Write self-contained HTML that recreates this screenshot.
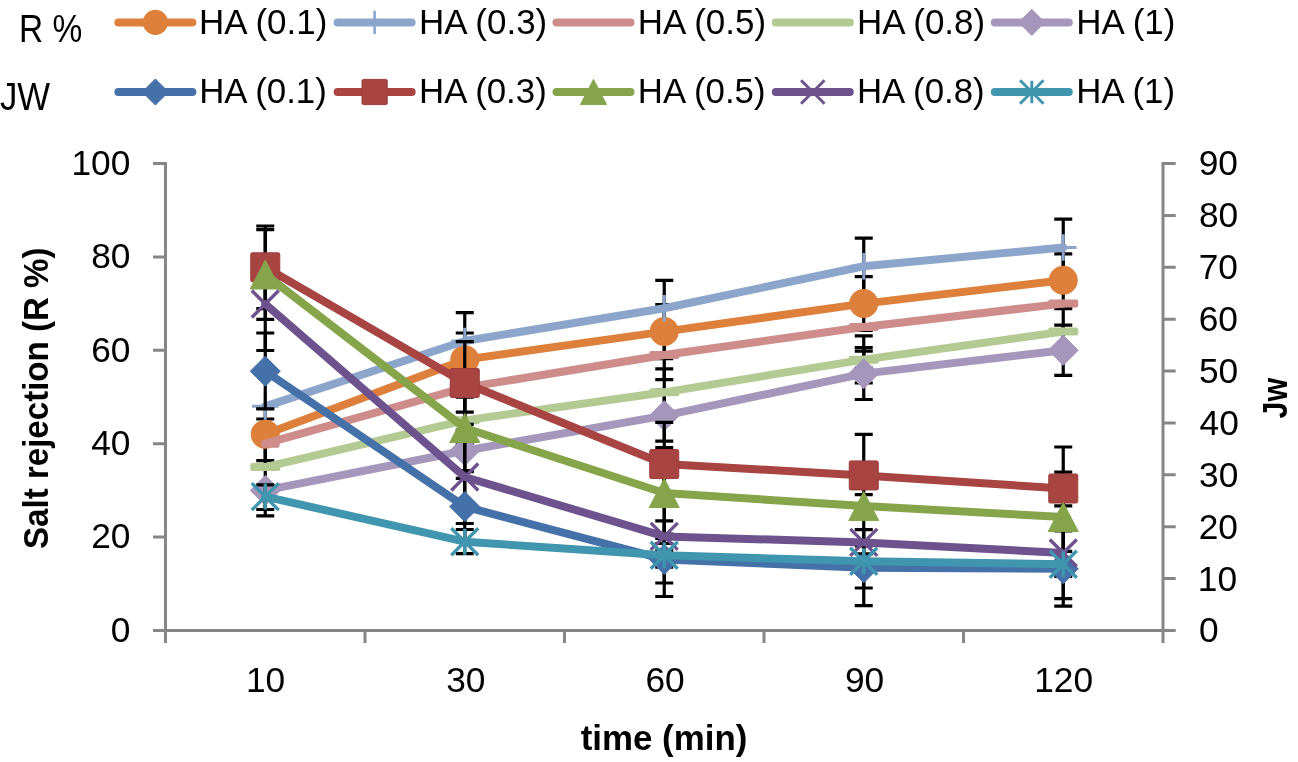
<!DOCTYPE html><html><head><meta charset="utf-8"><title>chart</title><style>html,body{margin:0;padding:0;background:#fff;width:1298px;height:762px;overflow:hidden}body{position:relative;font-family:"Liberation Sans",sans-serif}</style></head><body><svg width="1298" height="762" viewBox="0 0 1298 762" style="position:absolute;left:0;top:0;will-change:transform"><rect width="100%" height="100%" fill="#fff"/><g font-family="Liberation Sans, sans-serif"><text transform="translate(18.94 42.2) scale(0.8603 1)" font-size="38.95" font-weight="normal" fill="#000">R %</text><text transform="translate(-0.02 110) scale(0.8884 1)" font-size="39.10" font-weight="normal" fill="#000">JW</text><path d="M118.4 22.4H192.4" stroke="#DD803B" stroke-width="8" stroke-linecap="round"/><circle cx="155.4" cy="22.4" r="12.62" fill="#DD803B"/><text transform="translate(199.12 34.3) scale(0.9740 1)" font-size="35.90" font-weight="normal" fill="#000">HA (0.1)</text><path d="M337.6 22.4H411.6" stroke="#8BA5CB" stroke-width="8" stroke-linecap="round"/><path d="M363.03 22.4H386.17M374.6 10.83V33.97" stroke="#8BA5CB" stroke-width="2.61" fill="none"/><text transform="translate(419.02 34.3) scale(0.9740 1)" font-size="35.90" font-weight="normal" fill="#000">HA (0.3)</text><path d="M556.5 22.4H630.5" stroke="#CE8D8B" stroke-width="8" stroke-linecap="round"/><text transform="translate(637.82 34.3) scale(0.9740 1)" font-size="35.90" font-weight="normal" fill="#000">HA (0.5)</text><path d="M775.8 22.4H849.8" stroke="#B3CA92" stroke-width="8" stroke-linecap="round"/><text transform="translate(856.92 34.3) scale(0.9740 1)" font-size="35.90" font-weight="normal" fill="#000">HA (0.8)</text><path d="M994.8 22.4H1068.8" stroke="#A596BB" stroke-width="8" stroke-linecap="round"/><path d="M1031.8 9.35L1044.85 22.4L1031.8 35.45L1018.75 22.4Z" fill="#A596BB" stroke="#A596BB" stroke-width="1" stroke-linejoin="round"/><text transform="translate(1076.32 34.3) scale(0.9740 1)" font-size="35.90" font-weight="normal" fill="#000">HA (1)</text><path d="M118.4 92H192.4" stroke="#4571A9" stroke-width="8" stroke-linecap="round"/><path d="M155.4 78.95L168.45 92L155.4 105.05L142.35 92Z" fill="#4571A9" stroke="#4571A9" stroke-width="1" stroke-linejoin="round"/><text transform="translate(199.13 103.3) scale(0.9740 1)" font-size="35.76" font-weight="normal" fill="#000">HA (0.1)</text><path d="M337.6 92H411.6" stroke="#A84442" stroke-width="8" stroke-linecap="round"/><rect x="361.99" y="79.39" width="25.23" height="25.23" rx="1.5" fill="#A84442" stroke="#9c3d3b" stroke-width="1"/><text transform="translate(419.03 103.3) scale(0.9740 1)" font-size="35.76" font-weight="normal" fill="#000">HA (0.3)</text><path d="M556.5 92H630.5" stroke="#86A44A" stroke-width="8" stroke-linecap="round"/><path d="M593.5 79.39L606.55 104.61L580.45 104.61Z" fill="#86A44A" stroke="#86A44A" stroke-width="1" stroke-linejoin="round"/><text transform="translate(637.83 103.3) scale(0.9740 1)" font-size="35.76" font-weight="normal" fill="#000">HA (0.5)</text><path d="M775.8 92H849.8" stroke="#6D528E" stroke-width="8" stroke-linecap="round"/><path d="M801.05 80.25L824.54 103.75M824.54 80.25L801.05 103.75" stroke="#6D528E" stroke-width="2.96" fill="none"/><text transform="translate(856.93 103.3) scale(0.9740 1)" font-size="35.76" font-weight="normal" fill="#000">HA (0.8)</text><path d="M994.8 92H1068.8" stroke="#4096AE" stroke-width="8" stroke-linecap="round"/><path d="M1020.05 80.25L1043.54 103.75M1043.54 80.25L1020.05 103.75M1031.8 80.69V103.31" stroke="#4096AE" stroke-width="2.96" fill="none"/><text transform="translate(1076.33 103.3) scale(0.9740 1)" font-size="35.76" font-weight="normal" fill="#000">HA (1)</text><path d="M165.5 162V643M1163 162V643M153 630.5H1175.7M153 630.5H165.5M153 537.1H165.5M153 443.7H165.5M153 350.3H165.5M153 256.9H165.5M153 163.5H165.5M1163 630.5H1175.7M1163 578.61H1175.7M1163 526.72H1175.7M1163 474.83H1175.7M1163 422.94H1175.7M1163 371.05H1175.7M1163 319.16H1175.7M1163 267.27H1175.7M1163 215.38H1175.7M1163 163.49H1175.7M365 630.5V643M564.5 630.5V643M764 630.5V643M963.5 630.5V643" stroke="#868686" stroke-width="3" fill="none"/><text transform="translate(110.73 641.7) scale(1.0101 1)" font-size="34.96" font-weight="normal" fill="#000">0</text><text transform="translate(91.13 548.3) scale(1.0101 1)" font-size="34.96" font-weight="normal" fill="#000">20</text><text transform="translate(91.13 454.9) scale(1.0101 1)" font-size="34.96" font-weight="normal" fill="#000">40</text><text transform="translate(91.13 361.5) scale(1.0101 1)" font-size="34.96" font-weight="normal" fill="#000">60</text><text transform="translate(91.13 268.1) scale(1.0101 1)" font-size="34.96" font-weight="normal" fill="#000">80</text><text transform="translate(71.44 174.7) scale(1.0101 1)" font-size="34.96" font-weight="normal" fill="#000">100</text><text transform="translate(1198.99 642.4) scale(1.0101 1)" font-size="34.96" font-weight="normal" fill="#000">0</text><text transform="translate(1197.75 590.51) scale(1.0101 1)" font-size="34.96" font-weight="normal" fill="#000">10</text><text transform="translate(1198.63 538.62) scale(1.0101 1)" font-size="34.96" font-weight="normal" fill="#000">20</text><text transform="translate(1199.08 486.73) scale(1.0101 1)" font-size="34.96" font-weight="normal" fill="#000">30</text><text transform="translate(1199.61 434.84) scale(1.0101 1)" font-size="34.96" font-weight="normal" fill="#000">40</text><text transform="translate(1198.99 382.95) scale(1.0101 1)" font-size="34.96" font-weight="normal" fill="#000">50</text><text transform="translate(1198.63 331.06) scale(1.0101 1)" font-size="34.96" font-weight="normal" fill="#000">60</text><text transform="translate(1198.63 279.17) scale(1.0101 1)" font-size="34.96" font-weight="normal" fill="#000">70</text><text transform="translate(1198.9 227.28) scale(1.0101 1)" font-size="34.96" font-weight="normal" fill="#000">80</text><text transform="translate(1198.72 175.39) scale(1.0101 1)" font-size="34.96" font-weight="normal" fill="#000">90</text><text transform="translate(245.99 692.3) scale(1.0143 1)" font-size="34.81" font-weight="normal" fill="#000">10</text><text transform="translate(446.15 692.3) scale(1.0143 1)" font-size="34.81" font-weight="normal" fill="#000">30</text><text transform="translate(645.43 692.3) scale(1.0143 1)" font-size="34.81" font-weight="normal" fill="#000">60</text><text transform="translate(844.98 692.3) scale(1.0143 1)" font-size="34.81" font-weight="normal" fill="#000">90</text><text transform="translate(1034.15 692.3) scale(1.0143 1)" font-size="34.81" font-weight="normal" fill="#000">120</text><text transform="translate(580.76 750) scale(0.9822 1)" font-size="35.5" font-weight="bold">time (min)</text><text transform="translate(47.7 548.99) rotate(-90) scale(0.9296 1)" font-size="35.61" font-weight="bold">Salt rejection (R %)</text><text transform="translate(1287.3 418.46) rotate(-90) scale(0.8730 1)" font-size="34.88" font-weight="bold">Jw</text><path d="M265.25 408.1V460.7M256.25 408.1H274.25M256.25 460.7H274.25" stroke="#000" stroke-width="3.2" fill="none"/><path d="M265.25 419V468M256.25 419H274.25M256.25 468H274.25" stroke="#000" stroke-width="3.2" fill="none"/><path d="M265.25 465V515.8M256.25 465H274.25M256.25 515.8H274.25" stroke="#000" stroke-width="3.2" fill="none"/><path d="M464.75 312.6V369.4M455.75 312.6H473.75M455.75 369.4H473.75" stroke="#000" stroke-width="3.2" fill="none"/><path d="M464.75 333V386.2M455.75 333H473.75M455.75 386.2H473.75" stroke="#000" stroke-width="3.2" fill="none"/><path d="M464.75 363.3V412.1M455.75 363.3H473.75M455.75 412.1H473.75" stroke="#000" stroke-width="3.2" fill="none"/><path d="M464.75 397.1V443.7M455.75 397.1H473.75M455.75 443.7H473.75" stroke="#000" stroke-width="3.2" fill="none"/><path d="M464.75 436V470.7M455.75 436H473.75M455.75 470.7H473.75" stroke="#000" stroke-width="3.2" fill="none"/><path d="M664.25 280.4V336.2M655.25 280.4H673.25M655.25 336.2H673.25" stroke="#000" stroke-width="3.2" fill="none"/><path d="M664.25 304.5V358.7M655.25 304.5H673.25M655.25 358.7H673.25" stroke="#000" stroke-width="3.2" fill="none"/><path d="M664.25 330.3V379.7M655.25 330.3H673.25M655.25 379.7H673.25" stroke="#000" stroke-width="3.2" fill="none"/><path d="M664.25 368.8V415.8M655.25 368.8H673.25M655.25 415.8H673.25" stroke="#000" stroke-width="3.2" fill="none"/><path d="M664.25 390.2V441.2M655.25 390.2H673.25M655.25 441.2H673.25" stroke="#000" stroke-width="3.2" fill="none"/><path d="M863.75 238.2V294.4M854.75 238.2H872.75M854.75 294.4H872.75" stroke="#000" stroke-width="3.2" fill="none"/><path d="M863.75 276.7V330.5M854.75 276.7H872.75M854.75 330.5H872.75" stroke="#000" stroke-width="3.2" fill="none"/><path d="M863.75 335.8V383M854.75 335.8H872.75M854.75 383H872.75" stroke="#000" stroke-width="3.2" fill="none"/><path d="M863.75 347.7V399.5M854.75 347.7H872.75M854.75 399.5H872.75" stroke="#000" stroke-width="3.2" fill="none"/><path d="M863.75 351.2V368M854.75 351.2H872.75M854.75 368H872.75" stroke="#000" stroke-width="3.2" fill="none"/><path d="M1063.25 219.2V276M1054.25 219.2H1072.25M1054.25 276H1072.25" stroke="#000" stroke-width="3.2" fill="none"/><path d="M1063.25 253.8V306.8M1054.25 253.8H1072.25M1054.25 306.8H1072.25" stroke="#000" stroke-width="3.2" fill="none"/><path d="M1063.25 308.6V354.6M1054.25 308.6H1072.25M1054.25 354.6H1072.25" stroke="#000" stroke-width="3.2" fill="none"/><path d="M1063.25 325.2V375.4M1054.25 325.2H1072.25M1054.25 375.4H1072.25" stroke="#000" stroke-width="3.2" fill="none"/><polyline points="265.25,434.36 464.75,359.64 664.25,331.62 863.75,303.6 1063.25,280.25" fill="none" stroke="#DD803B" stroke-width="8" stroke-linejoin="round" stroke-linecap="round"/><circle cx="265.25" cy="434.36" r="14.5" fill="#DD803B"/><circle cx="464.75" cy="359.64" r="14.5" fill="#DD803B"/><circle cx="664.25" cy="331.62" r="14.5" fill="#DD803B"/><circle cx="863.75" cy="303.6" r="14.5" fill="#DD803B"/><circle cx="1063.25" cy="280.25" r="14.5" fill="#DD803B"/><polyline points="265.25,406.34 464.75,340.96 664.25,308.27 863.75,266.24 1063.25,247.56" fill="none" stroke="#8BA5CB" stroke-width="8" stroke-linejoin="round" stroke-linecap="round"/><path d="M251.95 406.34H278.55M265.25 393.04V419.64" stroke="#8BA5CB" stroke-width="3" fill="none"/><path d="M451.45 340.96H478.05M464.75 327.66V354.26" stroke="#8BA5CB" stroke-width="3" fill="none"/><path d="M650.95 308.27H677.55M664.25 294.97V321.57" stroke="#8BA5CB" stroke-width="3" fill="none"/><path d="M850.45 266.24H877.05M863.75 252.94V279.54" stroke="#8BA5CB" stroke-width="3" fill="none"/><path d="M1049.95 247.56H1076.55M1063.25 234.26V260.86" stroke="#8BA5CB" stroke-width="3" fill="none"/><polyline points="265.25,443.7 464.75,387.66 664.25,354.97 863.75,326.95 1063.25,303.6" fill="none" stroke="#CE8D8B" stroke-width="8" stroke-linejoin="round" stroke-linecap="round"/><rect x="261.25" y="439.7" width="18.4" height="8" rx="2" fill="#CE8D8B"/><rect x="449.75" y="383.66" width="30" height="8" rx="2" fill="#CE8D8B"/><rect x="649.25" y="350.97" width="30" height="8" rx="2" fill="#CE8D8B"/><rect x="848.75" y="322.95" width="30" height="8" rx="2" fill="#CE8D8B"/><rect x="1048.25" y="299.6" width="30" height="8" rx="2" fill="#CE8D8B"/><polyline points="265.25,467.05 464.75,420.35 664.25,392.33 863.75,359.64 1063.25,331.62" fill="none" stroke="#B3CA92" stroke-width="8" stroke-linejoin="round" stroke-linecap="round"/><rect x="250.25" y="463.05" width="30" height="8" rx="2" fill="#B3CA92"/><rect x="449.75" y="416.35" width="30" height="8" rx="2" fill="#B3CA92"/><rect x="649.25" y="388.33" width="30" height="8" rx="2" fill="#B3CA92"/><rect x="848.75" y="355.64" width="30" height="8" rx="2" fill="#B3CA92"/><rect x="1048.25" y="327.62" width="30" height="8" rx="2" fill="#B3CA92"/><polyline points="265.25,490.4 464.75,450.71 664.25,415.68 863.75,373.65 1063.25,350.3" fill="none" stroke="#A596BB" stroke-width="8" stroke-linejoin="round" stroke-linecap="round"/><path d="M265.25 475.4L280.25 490.4L265.25 505.4L250.25 490.4Z" fill="#A596BB" stroke="#A596BB" stroke-width="1" stroke-linejoin="round"/><path d="M464.75 435.71L479.75 450.71L464.75 465.71L449.75 450.71Z" fill="#A596BB" stroke="#A596BB" stroke-width="1" stroke-linejoin="round"/><path d="M664.25 400.68L679.25 415.68L664.25 430.68L649.25 415.68Z" fill="#A596BB" stroke="#A596BB" stroke-width="1" stroke-linejoin="round"/><path d="M863.75 358.65L878.75 373.65L863.75 388.65L848.75 373.65Z" fill="#A596BB" stroke="#A596BB" stroke-width="1" stroke-linejoin="round"/><path d="M1063.25 335.3L1078.25 350.3L1063.25 365.3L1048.25 350.3Z" fill="#A596BB" stroke="#A596BB" stroke-width="1" stroke-linejoin="round"/><path d="M265.25 226V308.6M256.25 226H274.25M256.25 308.6H274.25" stroke="#000" stroke-width="3.2" fill="none"/><path d="M265.25 229.6V319.4M256.25 229.6H274.25M256.25 319.4H274.25" stroke="#000" stroke-width="3.2" fill="none"/><path d="M265.25 257.5V350.5M256.25 257.5H274.25M256.25 350.5H274.25" stroke="#000" stroke-width="3.2" fill="none"/><path d="M265.25 333V408.9M256.25 333H274.25M256.25 408.9H274.25" stroke="#000" stroke-width="3.2" fill="none"/><path d="M265.25 484.8V509.5M256.25 484.8H274.25M256.25 509.5H274.25" stroke="#000" stroke-width="3.2" fill="none"/><path d="M464.75 341.7V424.3M455.75 341.7H473.75M455.75 424.3H473.75" stroke="#000" stroke-width="3.2" fill="none"/><path d="M464.75 377.4V478.4M455.75 377.4H473.75M455.75 478.4H473.75" stroke="#000" stroke-width="3.2" fill="none"/><path d="M464.75 430.1V523.5M455.75 430.1H473.75M455.75 523.5H473.75" stroke="#000" stroke-width="3.2" fill="none"/><path d="M464.75 471.6V541.6M455.75 471.6H473.75M455.75 541.6H473.75" stroke="#000" stroke-width="3.2" fill="none"/><path d="M464.75 529.5V553.7M455.75 529.5H473.75M455.75 553.7H473.75" stroke="#000" stroke-width="3.2" fill="none"/><path d="M664.25 422.3V505.7M655.25 422.3H673.25M655.25 505.7H673.25" stroke="#000" stroke-width="3.2" fill="none"/><path d="M664.25 447.5V538.5M655.25 447.5H673.25M655.25 538.5H673.25" stroke="#000" stroke-width="3.2" fill="none"/><path d="M664.25 520.9V550.7M655.25 520.9H673.25M655.25 550.7H673.25" stroke="#000" stroke-width="3.2" fill="none"/><path d="M664.25 534.2V583M655.25 534.2H673.25M655.25 583H673.25" stroke="#000" stroke-width="3.2" fill="none"/><path d="M664.25 475.1V596.5M655.25 475.1H673.25M655.25 596.5H673.25" stroke="#000" stroke-width="3.2" fill="none"/><path d="M664.25 543.5V567.1M655.25 543.5H673.25M655.25 567.1H673.25" stroke="#000" stroke-width="3.2" fill="none"/><path d="M863.75 434.4V516.4M854.75 434.4H872.75M854.75 516.4H872.75" stroke="#000" stroke-width="3.2" fill="none"/><path d="M863.75 494.7V517.5M854.75 494.7H872.75M854.75 517.5H872.75" stroke="#000" stroke-width="3.2" fill="none"/><path d="M863.75 529.7V553.9M854.75 529.7H872.75M854.75 553.9H872.75" stroke="#000" stroke-width="3.2" fill="none"/><path d="M863.75 546V588M854.75 546H872.75M854.75 588H872.75" stroke="#000" stroke-width="3.2" fill="none"/><path d="M863.75 516.8V605.6M854.75 516.8H872.75M854.75 605.6H872.75" stroke="#000" stroke-width="3.2" fill="none"/><path d="M1063.25 447V530M1054.25 447H1072.25M1054.25 530H1072.25" stroke="#000" stroke-width="3.2" fill="none"/><path d="M1063.25 472.1V561.9M1054.25 472.1H1072.25M1054.25 561.9H1072.25" stroke="#000" stroke-width="3.2" fill="none"/><path d="M1063.25 505.8V598.7M1054.25 505.8H1072.25M1054.25 598.7H1072.25" stroke="#000" stroke-width="3.2" fill="none"/><path d="M1063.25 551.4V576.4M1054.25 551.4H1072.25M1054.25 576.4H1072.25" stroke="#000" stroke-width="3.2" fill="none"/><path d="M1063.25 530.8V606.2M1054.25 530.8H1072.25M1054.25 606.2H1072.25" stroke="#000" stroke-width="3.2" fill="none"/><polyline points="265.25,371.2 464.75,506.6 664.25,559.4 863.75,567.8 1063.25,568.8" fill="none" stroke="#4571A9" stroke-width="8" stroke-linejoin="round" stroke-linecap="round"/><path d="M265.25 356.2L280.25 371.2L265.25 386.2L250.25 371.2Z" fill="#4571A9" stroke="#4571A9" stroke-width="1" stroke-linejoin="round"/><path d="M464.75 491.6L479.75 506.6L464.75 521.6L449.75 506.6Z" fill="#4571A9" stroke="#4571A9" stroke-width="1" stroke-linejoin="round"/><path d="M664.25 544.4L679.25 559.4L664.25 574.4L649.25 559.4Z" fill="#4571A9" stroke="#4571A9" stroke-width="1" stroke-linejoin="round"/><path d="M863.75 552.8L878.75 567.8L863.75 582.8L848.75 567.8Z" fill="#4571A9" stroke="#4571A9" stroke-width="1" stroke-linejoin="round"/><path d="M1063.25 553.8L1078.25 568.8L1063.25 583.8L1048.25 568.8Z" fill="#4571A9" stroke="#4571A9" stroke-width="1" stroke-linejoin="round"/><polyline points="265.25,267.3 464.75,383 664.25,464 863.75,475.4 1063.25,488.5" fill="none" stroke="#A84442" stroke-width="8" stroke-linejoin="round" stroke-linecap="round"/><rect x="250.75" y="252.8" width="29" height="29" rx="1.5" fill="#A84442" stroke="#9c3d3b" stroke-width="1"/><rect x="450.25" y="368.5" width="29" height="29" rx="1.5" fill="#A84442" stroke="#9c3d3b" stroke-width="1"/><rect x="649.75" y="449.5" width="29" height="29" rx="1.5" fill="#A84442" stroke="#9c3d3b" stroke-width="1"/><rect x="849.25" y="460.9" width="29" height="29" rx="1.5" fill="#A84442" stroke="#9c3d3b" stroke-width="1"/><rect x="1048.75" y="474" width="29" height="29" rx="1.5" fill="#A84442" stroke="#9c3d3b" stroke-width="1"/><polyline points="265.25,274.5 464.75,428 664.25,493 863.75,506.1 1063.25,517" fill="none" stroke="#86A44A" stroke-width="8" stroke-linejoin="round" stroke-linecap="round"/><path d="M265.25 260L280.25 289L250.25 289Z" fill="#86A44A" stroke="#86A44A" stroke-width="1" stroke-linejoin="round"/><path d="M464.75 413.5L479.75 442.5L449.75 442.5Z" fill="#86A44A" stroke="#86A44A" stroke-width="1" stroke-linejoin="round"/><path d="M664.25 478.5L679.25 507.5L649.25 507.5Z" fill="#86A44A" stroke="#86A44A" stroke-width="1" stroke-linejoin="round"/><path d="M863.75 491.6L878.75 520.6L848.75 520.6Z" fill="#86A44A" stroke="#86A44A" stroke-width="1" stroke-linejoin="round"/><path d="M1063.25 502.5L1078.25 531.5L1048.25 531.5Z" fill="#86A44A" stroke="#86A44A" stroke-width="1" stroke-linejoin="round"/><polyline points="265.25,304 464.75,477 664.25,536.4 863.75,542.4 1063.25,553" fill="none" stroke="#6D528E" stroke-width="8" stroke-linejoin="round" stroke-linecap="round"/><path d="M251.75 290.5L278.75 317.5M278.75 290.5L251.75 317.5" stroke="#6D528E" stroke-width="3.4" fill="none"/><path d="M451.25 463.5L478.25 490.5M478.25 463.5L451.25 490.5" stroke="#6D528E" stroke-width="3.4" fill="none"/><path d="M650.75 522.9L677.75 549.9M677.75 522.9L650.75 549.9" stroke="#6D528E" stroke-width="3.4" fill="none"/><path d="M850.25 528.9L877.25 555.9M877.25 528.9L850.25 555.9" stroke="#6D528E" stroke-width="3.4" fill="none"/><path d="M1049.75 539.5L1076.75 566.5M1076.75 539.5L1049.75 566.5" stroke="#6D528E" stroke-width="3.4" fill="none"/><polyline points="265.25,496.6 464.75,541.7 664.25,555.3 863.75,561.2 1063.25,564.2" fill="none" stroke="#4096AE" stroke-width="8" stroke-linejoin="round" stroke-linecap="round"/><path d="M251.75 483.1L278.75 510.1M278.75 483.1L251.75 510.1M265.25 483.6V509.6" stroke="#4096AE" stroke-width="3.4" fill="none"/><path d="M451.25 528.2L478.25 555.2M478.25 528.2L451.25 555.2M464.75 528.7V554.7" stroke="#4096AE" stroke-width="3.4" fill="none"/><path d="M650.75 541.8L677.75 568.8M677.75 541.8L650.75 568.8M664.25 542.3V568.3" stroke="#4096AE" stroke-width="3.4" fill="none"/><path d="M850.25 547.7L877.25 574.7M877.25 547.7L850.25 574.7M863.75 548.2V574.2" stroke="#4096AE" stroke-width="3.4" fill="none"/><path d="M1049.75 550.7L1076.75 577.7M1076.75 550.7L1049.75 577.7M1063.25 551.2V577.2" stroke="#4096AE" stroke-width="3.4" fill="none"/></g></svg></body></html>
